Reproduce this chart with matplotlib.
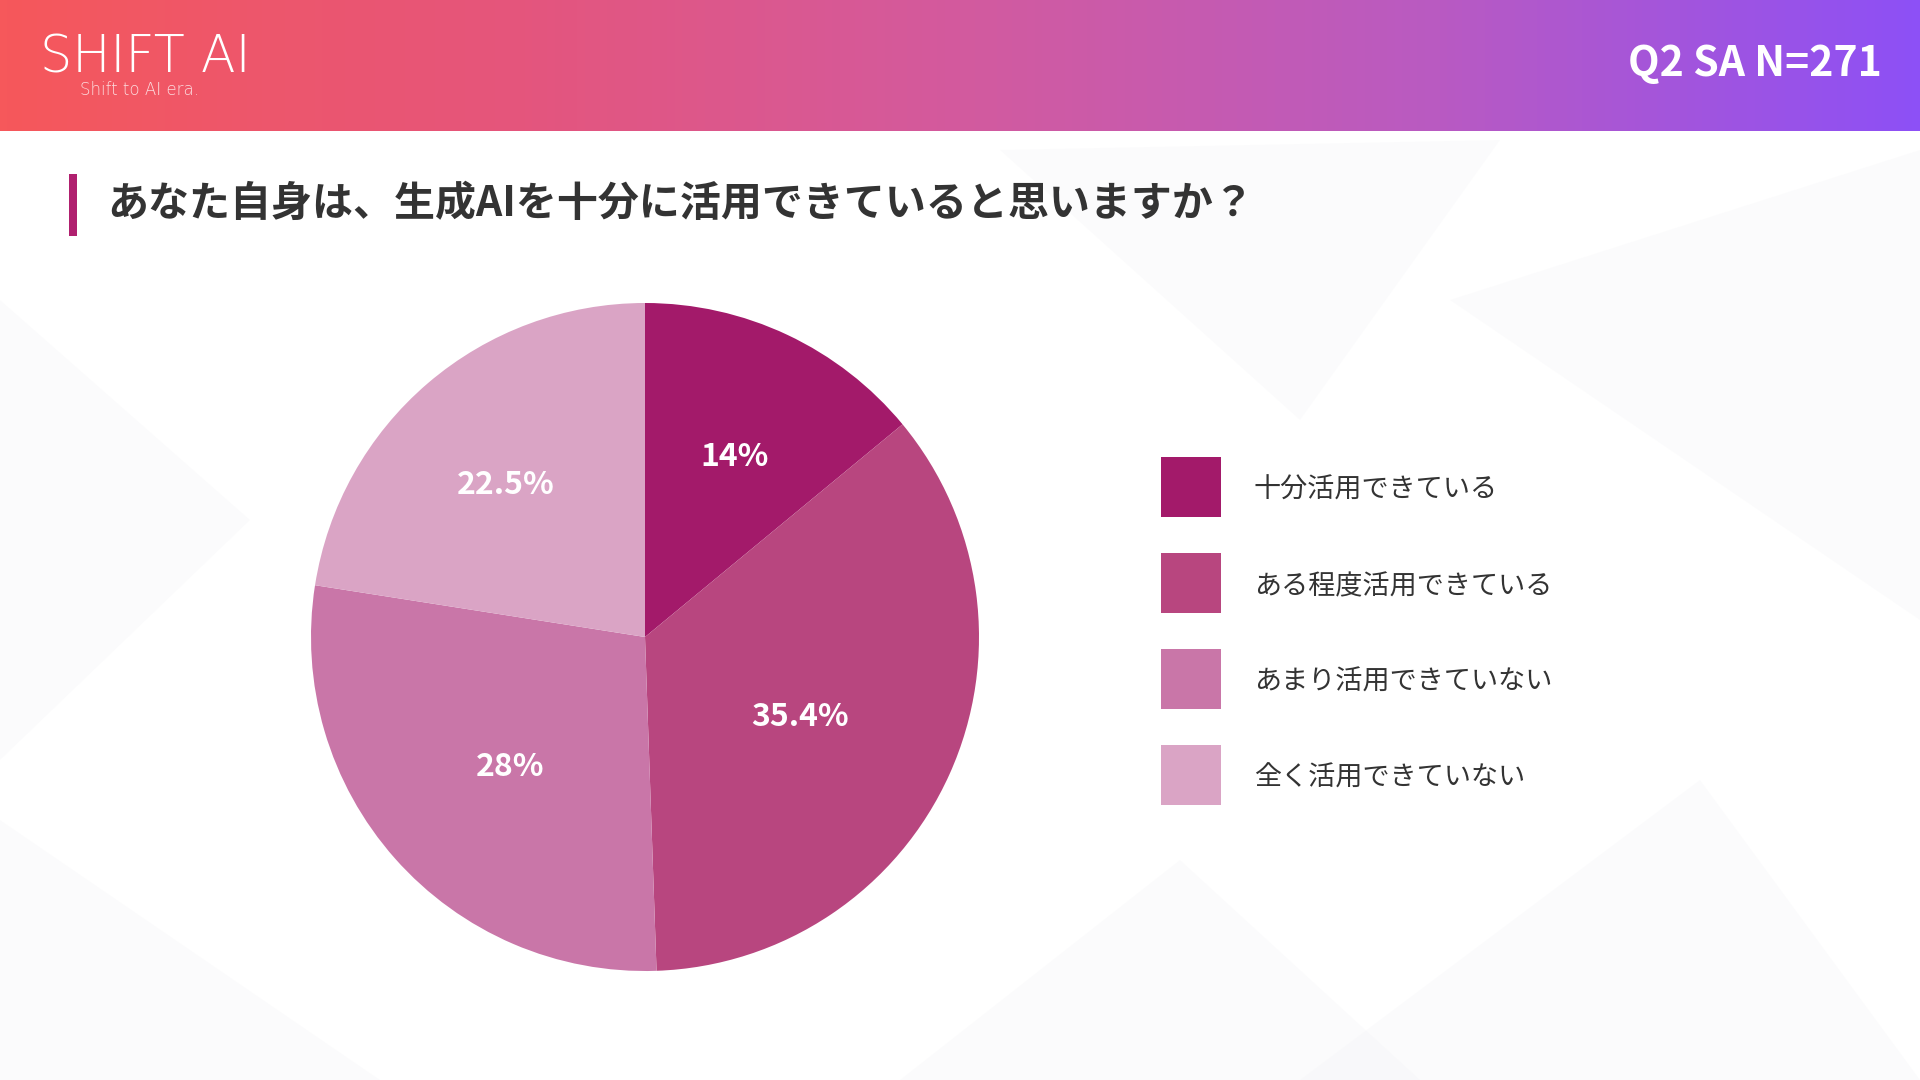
import numpy as np
import matplotlib.pyplot as plt
from matplotlib.colors import LinearSegmentedColormap
from matplotlib.patches import Polygon, Rectangle

# survey result (Q2 SA, N=271)
categories = ["十分活用できている", "ある程度活用できている", "あまり活用できていない", "全く活用できていない"]
shares = [14.0, 35.4, 28.0, 22.5]
share_labels = ["14%", "35.4%", "28%", "22.5%"]
colors = ["#A31A6A", "#B8467F", "#C976A8", "#DAA4C5"]

title = "あなた自身は、生成AIを十分に活用できていると思いますか？"
badge = "Q2 SA N=271"

plt.rcParams["font.family"] = ["Noto Sans CJK JP", "DejaVu Sans"]

W, H = 1920, 1080
fig = plt.figure(figsize=(W / 100, H / 100), dpi=100)
fig.patch.set_facecolor("white")

# faint geometric background
bg = fig.add_axes([0, 0, 1, 1])
bg.set_xlim(0, W)
bg.set_ylim(H, 0)
bg.axis("off")
shapes = [
    [(0, 300), (250, 520), (0, 760)],
    [(0, 820), (380, 1080), (0, 1080)],
    [(1450, 300), (1920, 150), (1920, 620)],
    [(1300, 1080), (1700, 780), (1920, 1080)],
    [(900, 1080), (1180, 860), (1420, 1080)],
    [(1000, 150), (1300, 420), (1500, 140)],
]
for pts in shapes:
    bg.add_patch(Polygon(pts, closed=True, facecolor="#EEEEF2", alpha=0.2, edgecolor="none"))

# header gradient band
hh = 131
hdr = fig.add_axes([0, 1 - hh / H, 1, hh / H])
grad = LinearSegmentedColormap.from_list(
    "hdr", ["#F6585B", "#E6557A", "#D35A9E", "#B95AC2", "#8D50F6"]
)
hdr.imshow(np.linspace(0, 1, 512)[None, :], aspect="auto", cmap=grad, extent=[0, 1, 0, 1])
hdr.axis("off")
hdr.text(40 / W, 0.555, "SHIFT AI", transform=hdr.transAxes, color="white",
         fontsize=36.5, family="DejaVu Sans", fontweight="light",
         ha="left", va="center")
hdr.text(80 / W, 0.31, "Shift to AI era.", transform=hdr.transAxes, color="white",
         alpha=0.8, fontsize=12, family="DejaVu Sans", fontweight="light",
         ha="left", va="center")
hdr.text(1882 / W, 0.51, badge, transform=hdr.transAxes, color="white",
         fontsize=29.5, fontweight="bold", ha="right", va="center")

# title with accent bar
bg.add_patch(Rectangle((69, 174), 8, 62, facecolor="#B0206F", edgecolor="none"))
bg.text(107, 204, title, fontsize=29.5, fontweight="bold", color="#333333",
        ha="left", va="center")

# pie
cx, cy, r = 645, 637, 334
ax = fig.add_axes([(cx - r) / W, (H - cy - r) / H, 2 * r / W, 2 * r / H])
wedges, _ = ax.pie(shares, colors=colors, startangle=90, counterclock=False,
                   radius=1.0, wedgeprops=dict(edgecolor="none"))
ax.set_xlim(-1, 1)
ax.set_ylim(-1, 1)

label_r = [0.63, 0.51, 0.54, 0.64]
for w, lab, lr in zip(wedges, share_labels, label_r):
    mid = np.deg2rad((w.theta1 + w.theta2) / 2)
    ax.text(lr * np.cos(mid), lr * np.sin(mid) - 0.03, lab, color="white",
            fontsize=23, fontweight="bold", ha="center", va="center")

# legend (sizes given in px, converted to points)
fs = 19.5
pt = 0.72
box = 60 * pt / fs
# matplotlib drawn handle height = fs * (0.65 * handleheight + 0.245)
hheight = (box - 0.245) / 0.65
leg = fig.legend(wedges, categories, loc="upper left",
                 bbox_to_anchor=(1161 / W, 1 - 457 / H), frameon=False,
                 fontsize=fs, handlelength=box, handleheight=hheight,
                 labelspacing=(96 - 60) * pt / fs, handletextpad=33 * pt / fs,
                 borderpad=0, borderaxespad=0)
for t in leg.get_texts():
    t.set_color("#333333")
    t.set_y(-3)

fig.savefig("out.png", dpi=100)
